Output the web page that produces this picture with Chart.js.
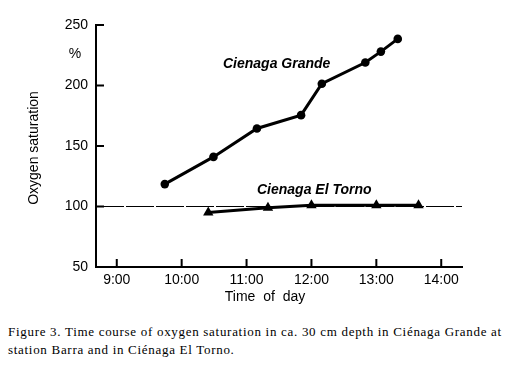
<!DOCTYPE html>
<html>
<head>
<meta charset="utf-8">
<script src="https://cdn.jsdelivr.net/npm/chart.js@4/dist/chart.umd.min.js"></script>
<style>
  html, body { margin: 0; padding: 0; background: #fff; }
  body { width: 512px; height: 371px; position: relative; overflow: hidden; }
  #wrap { position: absolute; left: 0; top: 0; width: 512px; height: 312px; }
  #caption {
    position: absolute; left: 8px; top: 323px;
    font: 13px "Liberation Serif", "Times New Roman", serif;
    letter-spacing: 0.7px;
    line-height: 18px; color: #000; white-space: nowrap;
  }
</style>
</head>
<body>
<div id="wrap"><canvas id="chart" width="512" height="312"></canvas></div>
<div id="caption">Figure 3. Time course of oxygen saturation in ca. 30 cm depth in Ciénaga Grande at<br>station Barra and in Ciénaga El Torno.</div>
<script>
// time in decimal hours, saturation in %
const xTicks = [9, 10, 11, 12, 13, 14];
const yTicks = [50, 100, 150, 200, 250];
const xMin = 8.68, xMax = 14.32;
const yMin = 50, yMax = 250;

const grandeTimes = [9.74, 10.49, 11.16, 11.84, 12.16, 12.83, 13.07, 13.33];
const grandeValues = [118.5, 141, 164.5, 175.5, 201.5, 219, 228, 238.5];

const tornoTimes = [10.41, 11.33, 12.0, 13.0, 13.65];
const tornoValues = [95, 99, 101, 101, 101];

const refValue = 100;

const sans = '"Liberation Sans", Arial, sans-serif';
const toPoints = (xs, ys) => xs.map((x, i) => ({ x: x, y: ys[i] }));

// inward tick marks + free text labels
const extras = {
  id: "extras",
  afterDraw(chart) {
    const c = chart.ctx;
    const xs = chart.scales.x, ys = chart.scales.y;
    const area = chart.chartArea;
    c.save();
    c.strokeStyle = "#000";
    c.lineWidth = 2;
    c.beginPath();
    yTicks.forEach(v => {
      const py = ys.getPixelForValue(v);
      c.moveTo(area.left, py);
      c.lineTo(area.left + 8, py);
    });
    xTicks.forEach(v => {
      const px = xs.getPixelForValue(v);
      c.moveTo(px, area.bottom);
      c.lineTo(px, area.bottom - 8);
    });
    c.stroke();

    c.fillStyle = "#000";
    c.font = "14px " + sans;
    c.textAlign = "center";
    c.textBaseline = "middle";
    c.fillText("%", 75, 54);
    c.fillText("Time  of  day", 265, 297);

    c.save();
    c.translate(34, 148);
    c.rotate(-Math.PI / 2);
    c.fillText("Oxygen saturation", 0, 0);
    c.restore();

    c.font = "italic bold 14px " + sans;
    c.textAlign = "left";
    c.textBaseline = "alphabetic";
    c.fillText("Cienaga Grande", 223, 68);
    c.fillText("Cienaga El Torno", 257, 194);
    c.restore();
  }
};

new Chart(document.getElementById("chart"), {
  type: "line",
  data: {
    datasets: [
      {
        label: "Cienaga Grande",
        data: toPoints(grandeTimes, grandeValues),
        borderColor: "#000",
        backgroundColor: "#000",
        borderWidth: 3,
        pointStyle: "circle",
        pointRadius: 4.3,
        pointBorderWidth: 0,
        tension: 0
      },
      {
        label: "Cienaga El Torno",
        data: toPoints(tornoTimes, tornoValues),
        borderColor: "#000",
        backgroundColor: "#000",
        borderWidth: 3,
        pointStyle: "triangle",
        pointRadius: 6,
        pointBorderWidth: 0,
        tension: 0
      },
      {
        label: "100 %",
        data: [{ x: xMin, y: refValue }, { x: xMax, y: refValue }],
        borderColor: "#000",
        borderWidth: 1,
        borderDash: [28, 2],
        pointRadius: 0
      }
    ]
  },
  options: {
    responsive: false,
    animation: false,
    layout: { padding: { top: 25, right: 50, bottom: 0, left: 0 } },
    plugins: { legend: { display: false }, tooltip: { enabled: false } },
    scales: {
      x: {
        type: "linear",
        min: xMin,
        max: xMax,
        afterBuildTicks: s => { s.ticks = xTicks.map(v => ({ value: v })); },
        afterFit: s => { s.height = 45; },
        grid: { display: false, drawTicks: false },
        border: { display: true, color: "#000", width: 2 },
        ticks: {
          color: "#000",
          padding: 5,
          font: { family: sans, size: 14 },
          maxRotation: 0,
          callback: v => v + ":00"
        }
      },
      y: {
        min: yMin,
        max: yMax,
        afterBuildTicks: s => { s.ticks = yTicks.map(v => ({ value: v })); },
        afterFit: s => { s.width = 96; },
        grid: { display: false, drawTicks: false },
        border: { display: true, color: "#000", width: 2 },
        ticks: {
          color: "#000",
          padding: 8,
          font: { family: sans, size: 14 }
        }
      }
    }
  },
  plugins: [extras]
});
</script>
</body>
</html>
